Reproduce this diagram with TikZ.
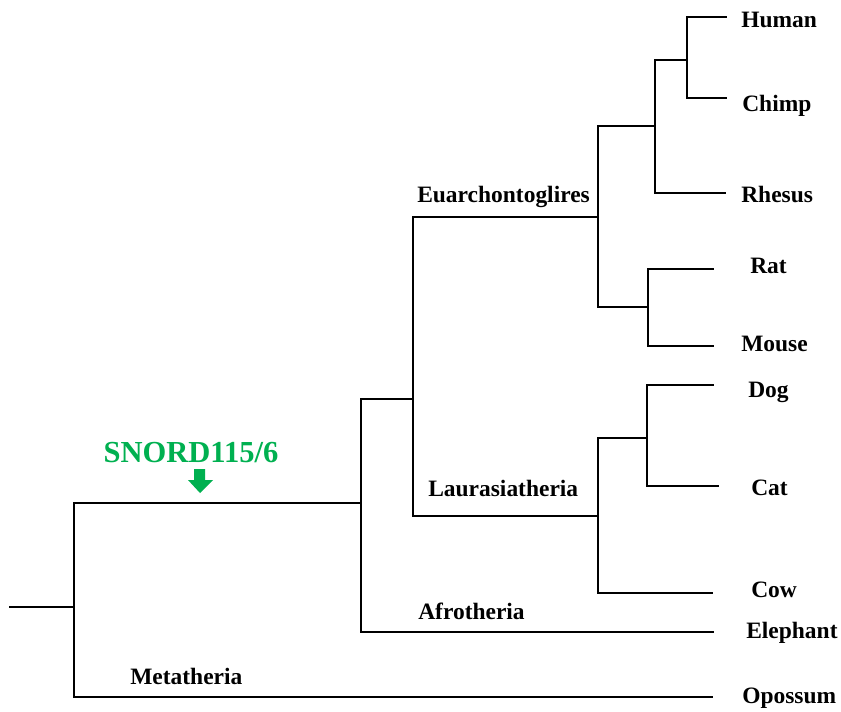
\documentclass[tikz,border=0pt]{standalone}
\usepackage{fontspec}
\setmainfont{Liberation Serif}
\definecolor{snordgreen}{RGB}{0,176,80}

\newcommand\leaffont{\fontsize{17.6}{20}\selectfont\bfseries}
\newcommand\markfont{\fontsize{22.9}{26}\selectfont\bfseries}

\begin{document}
\begin{tikzpicture}[x=0.75pt,y=-0.75pt,
    branch/.style={line width=1.5pt,line cap=rect},
    taxon/.style={anchor=base west,inner sep=0pt,font=\leaffont},
    clade/.style={anchor=base west,inner sep=0pt,font=\leaffont}]
    \useasboundingbox (0,0) rectangle (841,711);

    % internal nodes
    \coordinate (base) at (10,607);
    \coordinate (root) at (74,607);
    \coordinate (theria) at (361,503);
    \coordinate (boreo) at (413,399);
    \coordinate (euarch) at (598,217);
    \coordinate (laur) at (598,516);
    \coordinate (primates) at (655,126);
    \coordinate (hominid) at (687,60);
    \coordinate (rodents) at (648,307);
    \coordinate (carniv) at (647,438);

    % leaf ends
    \coordinate (human) at (726,17);
    \coordinate (chimp) at (726,98);
    \coordinate (rhesus) at (725,193);
    \coordinate (rat) at (713,269);
    \coordinate (mouse) at (713,346);
    \coordinate (dog) at (713,385);
    \coordinate (cat) at (718,486);
    \coordinate (cow) at (712,593);
    \coordinate (elephant) at (713,632);
    \coordinate (opossum) at (712,697);

    \draw[branch] (base) -- (root);
    \draw[branch] (root) |- (theria);
    \draw[branch] (root) |- (opossum);
    \draw[branch] (theria) |- (boreo);
    \draw[branch] (theria) |- (elephant);
    \draw[branch] (boreo) |- (euarch);
    \draw[branch] (boreo) |- (laur);
    \draw[branch] (euarch) |- (primates);
    \draw[branch] (euarch) |- (rodents);
    \draw[branch] (primates) |- (hominid);
    \draw[branch] (primates) |- (rhesus);
    \draw[branch] (hominid) |- (human);
    \draw[branch] (hominid) |- (chimp);
    \draw[branch] (rodents) |- (rat);
    \draw[branch] (rodents) |- (mouse);
    \draw[branch] (laur) |- (carniv);
    \draw[branch] (laur) |- (cow);
    \draw[branch] (carniv) |- (dog);
    \draw[branch] (carniv) |- (cat);

    % taxa
    \node[taxon] (humanlbl) at (741,27) {Human};
    \node[taxon] (chimplbl) at (742,111) {Chimp};
    \node[taxon] (rhesuslbl) at (741,202) {Rhesus};
    \node[taxon] (ratlbl) at (750,273) {Rat};
    \node[taxon] (mouselbl) at (741,351) {Mouse};
    \node[taxon] (doglbl) at (748,397) {Dog};
    \node[taxon] (catlbl) at (751,495) {Cat};
    \node[taxon] (cowlbl) at (751,597) {Cow};
    \node[taxon] (elephantlbl) at (746,638) {Elephant};
    \node[taxon] (opossumlbl) at (742,703) {Opossum};

    % clades
    \node[clade] (euarchlbl) at (417,202) {Euarchontoglires};
    \node[clade] (laurlbl) at (428,496) {Laurasiatheria};
    \node[clade] (afrolbl) at (418,619) {Afrotheria};
    \node[clade] (metalbl) at (130,684) {Metatheria};

    % SNORD115/6 insertion
    \node[anchor=base,inner sep=0pt,font=\markfont,text=snordgreen] (snord) at (191,462) {SNORD115/6};
    \fill[snordgreen] (194,469) -- (205,469) -- (205,480) -- (213,480) -- (200,493)
        -- (188,480) -- (194,480) -- cycle;
\end{tikzpicture}
\end{document}
